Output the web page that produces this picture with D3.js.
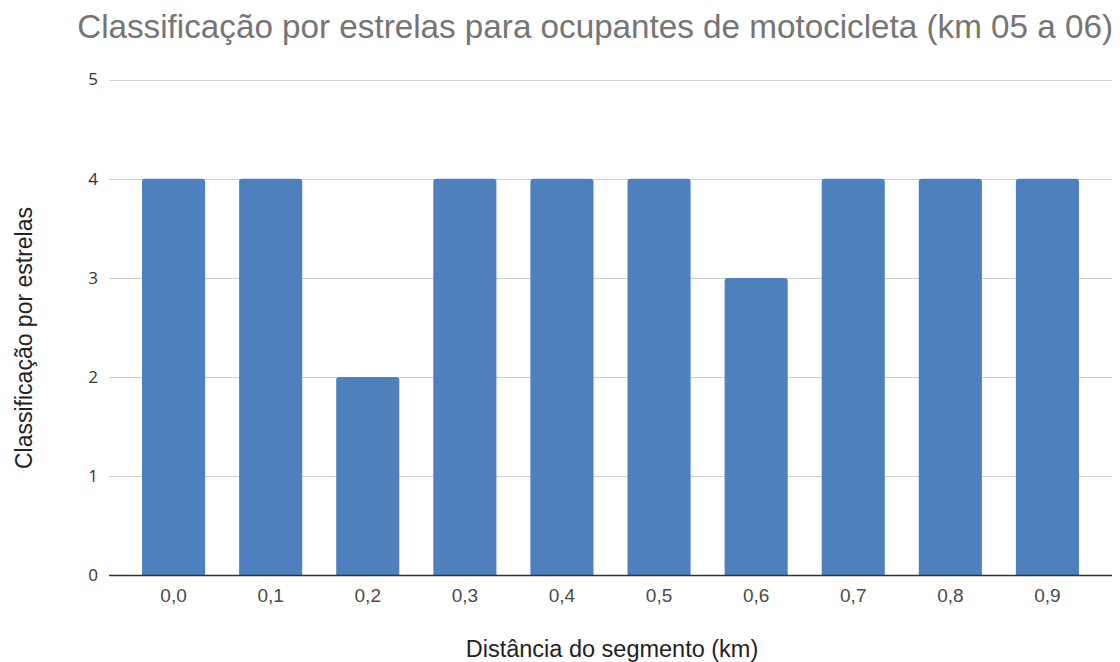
<!DOCTYPE html>
<html>
<head>
<meta charset="utf-8">
<script src="https://cdn.jsdelivr.net/npm/d3@7"></script>
<style>
  html, body { margin: 0; padding: 0; background: #fff; }
  svg { display: block; }
</style>
</head>
<body>
<svg id="chart" width="1120" height="662"></svg>
<script>
// Segment distances (km) and star ratings for motorcycle occupants
const categories = ["0,0", "0,1", "0,2", "0,3", "0,4", "0,5", "0,6", "0,7", "0,8", "0,9"];
const ratings = [4, 4, 2, 4, 4, 4, 3, 4, 4, 4];
const yTicks = [0, 1, 2, 3, 4, 5];

const titleText = "Classificação por estrelas para ocupantes de motocicleta (km 05 a 06)";
const xTitle = "Distância do segmento (km)";
const yTitle = "Classificação por estrelas";

const svg = d3.select("#chart");
const plot = { left: 109, right: 1112, top: 79.5, bottom: 575.5 };

const x = d3.scaleBand()
  .domain(categories)
  .range([plot.left, plot.right])
  .paddingInner(0.35)
  .paddingOuter(0.34);

const y = d3.scaleLinear()
  .domain([0, 5])
  .range([plot.bottom, plot.top]);

// Gridlines
svg.append("g")
  .selectAll("line")
  .data(yTicks.filter(d => d > 0))
  .join("line")
  .attr("x1", plot.left)
  .attr("x2", plot.right)
  .attr("y1", d => Math.round(y(d)) + 0.5)
  .attr("y2", d => Math.round(y(d)) + 0.5)
  .attr("stroke", "#d0d0d0")
  .attr("stroke-width", 1.2);

// Y tick labels
const yAxis = d3.axisLeft(y).tickValues(yTicks).tickSize(0).tickPadding(11).tickFormat(d3.format("d"));
const gy = svg.append("g").attr("transform", `translate(${plot.left},0)`).call(yAxis);
gy.select(".domain").remove();
gy.selectAll("text")
  .style("font-family", "'Open Sans', sans-serif")
  .style("font-size", "17px")
  .attr("fill", "#333");

// Bars with slightly rounded tops
const r = 3;
svg.append("g")
  .selectAll("path")
  .data(categories.map((c, i) => ({ c, v: ratings[i] })))
  .join("path")
  .attr("fill", "#4e80bd")
  .attr("d", d => {
    const x0 = x(d.c), w = x.bandwidth();
    const y0 = y(d.v), y1 = y(0);
    return `M${x0},${y1}V${y0 + r}Q${x0},${y0} ${x0 + r},${y0}H${x0 + w - r}Q${x0 + w},${y0} ${x0 + w},${y0 + r}V${y1}Z`;
  });

// X axis baseline and labels
const xAxis = d3.axisBottom(x).tickSize(0).tickPadding(13);
const gx = svg.append("g").attr("transform", `translate(0,${plot.bottom})`).call(xAxis);
gx.select(".domain")
  .attr("d", `M${plot.left},0H${plot.right}`)
  .attr("stroke", "#333")
  .attr("stroke-width", 1.5);
gx.selectAll("text")
  .style("font-family", "'Liberation Sans', Arial, sans-serif")
  .style("font-size", "19px")
  .attr("fill", "#4a4a4a");

// Chart title
const title = svg.append("text")
  .attr("x", 1113)
  .attr("y", 38)
  .attr("text-anchor", "end")
  .attr("font-family", "'Liberation Sans', Arial, sans-serif")
  .attr("font-size", 28)
  .attr("fill", "#757575")
  .text(titleText);
const tw = title.node().getComputedTextLength();
const targetW = 1113 - 77;
title.attr("font-size", 28 * targetW / tw);

// Axis titles
svg.append("text")
  .attr("x", 612)
  .attr("y", 657)
  .attr("text-anchor", "middle")
  .attr("font-family", "'Liberation Sans', Arial, sans-serif")
  .attr("font-size", 23.5)
  .attr("fill", "#222")
  .text(xTitle);

svg.append("text")
  .attr("transform", "translate(32,338) rotate(-90)")
  .attr("text-anchor", "middle")
  .attr("font-family", "'Liberation Sans', Arial, sans-serif")
  .attr("font-size", 23)
  .attr("fill", "#222")
  .text(yTitle);
</script>
</body>
</html>
